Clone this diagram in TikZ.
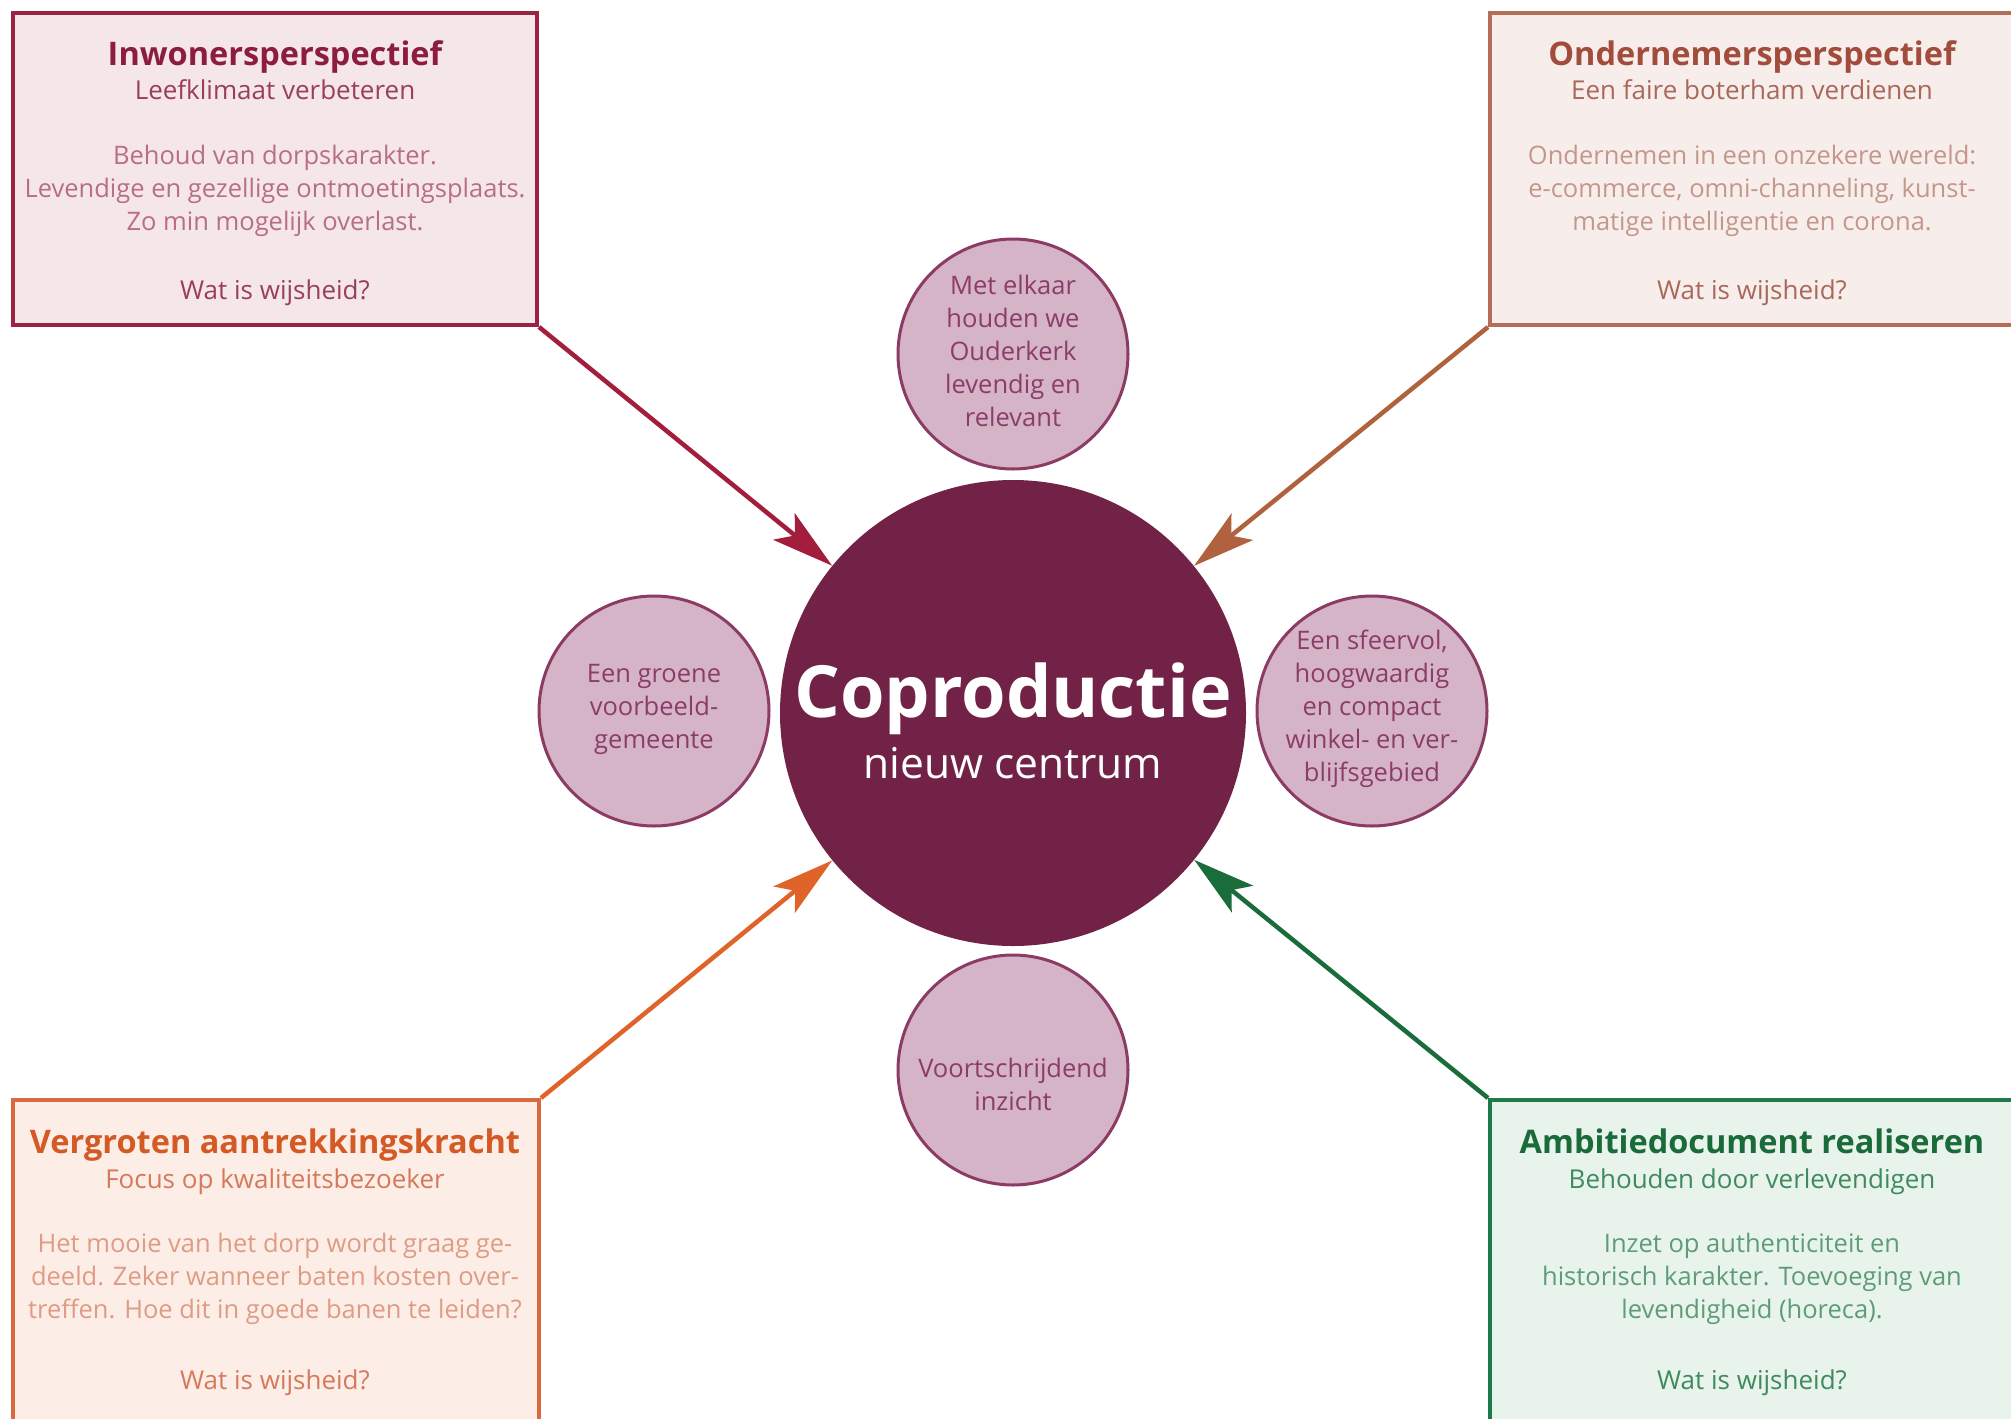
\documentclass[tikz,border=0pt]{standalone}
\usepackage{fontspec}
\setmainfont{Open Sans}
\usepackage{xcolor}
\usepackage{tikz}
\usetikzlibrary{arrows.meta, positioning}

% kleuren per perspectief
\definecolor{inwlijn}{HTML}{9A2242}
\definecolor{inwvul}{HTML}{F5E6EA}
\definecolor{inwtitel}{HTML}{8C1D3E}
\definecolor{inwsub}{HTML}{9A3F5A}
\definecolor{inwtekst}{HTML}{B86E84}
\definecolor{inwpijl}{HTML}{A21E3C}

\definecolor{ondlijn}{HTML}{B36E58}
\definecolor{ondvul}{HTML}{F7EEEC}
\definecolor{ondtitel}{HTML}{A24D3C}
\definecolor{ondsub}{HTML}{A8695A}
\definecolor{ondtekst}{HTML}{C4978C}
\definecolor{ondpijl}{HTML}{B0623E}

\definecolor{verlijn}{HTML}{D96A40}
\definecolor{vervul}{HTML}{FDEDE7}
\definecolor{vertitel}{HTML}{D35A24}
\definecolor{versub}{HTML}{D47A5A}
\definecolor{vertekst}{HTML}{DE9C84}
\definecolor{verpijl}{HTML}{E0642A}

\definecolor{amblijn}{HTML}{1E7A4A}
\definecolor{ambvul}{HTML}{E8F3EC}
\definecolor{ambtitel}{HTML}{1B6A3A}
\definecolor{ambsub}{HTML}{3F8A5E}
\definecolor{ambtekst}{HTML}{5E9C78}
\definecolor{ambpijl}{HTML}{1A6C3A}

\definecolor{kernvul}{HTML}{722246}
\definecolor{bolvul}{HTML}{D4B4C6}
\definecolor{bollijn}{HTML}{8C3C64}
\definecolor{boltekstkleur}{HTML}{8C3C68}

\tikzstyle{kader}      = [rectangle, draw, line width=4pt, inner sep=0pt]
\tikzstyle{bol}        = [circle, draw=bollijn, fill=bolvul, line width=3pt, minimum size=230pt, inner sep=0pt]
\tikzstyle{boltekst}   = [align=center, text=boltekstkleur, font=\fontsize{25.5}{33}\selectfont]
\tikzstyle{pijl}       = [line width=4.5pt, -{Stealth[length=62pt, width=34pt, inset=14pt]}]
\tikzstyle{titel}      = [font=\bfseries\fontsize{32.5}{38}\selectfont, text height=0.75em, text depth=0.25em]
\tikzstyle{ondertitel} = [font=\fontsize{26}{33}\selectfont, text height=0.75em, text depth=0.25em]
\tikzstyle{tekst}      = [align=center, font=\fontsize{25.5}{33}\selectfont]

\begin{document}
\begin{tikzpicture}[x=1pt, y=-1pt]
    \useasboundingbox (0,0) rectangle (2011,1419);
    \fill [white] (0,0) rectangle (2011,1419);
    \clip (0,0) rectangle (2011,1419);

    % vier perspectieven
    \node (inw) at (275,169)  [kader, draw=inwlijn, fill=inwvul, minimum width=524pt, minimum height=312pt] {};
    \node (inwtitel) at (275,63)  [titel, text=inwtitel] {Inwonersperspectief};
    \node (inwsub)   at (275,97)  [ondertitel, text=inwsub] {Leefklimaat verbeteren};
    \node (inwtekst) at (275,191) [tekst, text=inwtekst]
          {Behoud van dorpskarakter.\\Levendige en gezellige ontmoetingsplaats.\\Zo min mogelijk overlast.};
    \node (inwvraag) at (275,297) [ondertitel, text=inwsub] {Wat is wijsheid?};

    \node (ond) at (1753,169) [kader, draw=ondlijn, fill=ondvul, minimum width=526pt, minimum height=312pt] {};
    \node (ondtitel) at (1752,63)  [titel, text=ondtitel] {Ondernemersperspectief};
    \node (ondsub)   at (1752,97)  [ondertitel, text=ondsub] {Een faire boterham verdienen};
    \node (ondtekst) at (1752,191) [tekst, text=ondtekst]
          {Ondernemen in een onzekere wereld:\\e-commerce, omni-channeling, kunst-\\matige intelligentie en corona.};
    \node (ondvraag) at (1752,297) [ondertitel, text=ondsub] {Wat is wijsheid?};

    \node (ver) at (276,1265) [kader, draw=verlijn, fill=vervul, minimum width=526pt, minimum height=330pt] {};
    \node (vertitel) at (275,1151) [titel, text=vertitel] {Vergroten aantrekkingskracht};
    \node (versub)   at (275,1186) [ondertitel, text=versub] {Focus op kwaliteitsbezoeker};
    \node (vertekst) at (275,1279) [tekst, text=vertekst]
          {Het mooie van het dorp wordt graag ge-\\deeld. Zeker wanneer baten kosten over-\\treffen. Hoe dit in goede banen te leiden?};
    \node (vervraag) at (275,1387) [ondertitel, text=versub] {Wat is wijsheid?};

    \node (amb) at (1753,1265) [kader, draw=amblijn, fill=ambvul, minimum width=526pt, minimum height=330pt] {};
    \node (ambtitel) at (1752,1151) [titel, text=ambtitel] {Ambitiedocument realiseren};
    \node (ambsub)   at (1752,1186) [ondertitel, text=ambsub] {Behouden door verlevendigen};
    \node (ambtekst) at (1752,1279) [tekst, text=ambtekst]
          {Inzet op authenticiteit en\\historisch karakter. Toevoeging van\\levendigheid (horeca).};
    \node (ambvraag) at (1752,1387) [ondertitel, text=ambsub] {Wat is wijsheid?};

    % kern met vier bollen
    \node (kern) at (1013,713) [circle, fill=kernvul, minimum size=466pt, inner sep=0pt] {};
    \node (kerntitel) at (1013,699) [text=white, font=\bfseries\fontsize{72}{80}\selectfont] {Coproductie};
    \node (kernsub)   at (1013,763) [text=white, font=\fontsize{42.5}{48}\selectfont] {nieuw centrum};

    \node (bolboven) at (1013,354)  [bol] {};
    \node (bollinks) at (654,711)   [bol] {};
    \node (bolrechts) at (1372,711) [bol] {};
    \node (bolonder) at (1013,1070) [bol] {};
    \node (bolbovent)  at (1013,351)  [boltekst] {Met elkaar\\houden we\\Ouderkerk\\levendig en\\relevant};
    \node (bollinkst)  at (654,709)   [boltekst] {Een groene\\voorbeeld-\\gemeente};
    \node (bolrechtst) at (1372,709)  [boltekst] {Een sfeervol,\\hoogwaardig\\en compact\\winkel- en ver-\\blijfsgebied};
    \node (bolondert)  at (1013,1084) [boltekst] {Voortschrijdend\\inzicht};

    \draw [pijl, color=inwpijl] (inw.south east) -- (kern);
    \draw [pijl, color=ondpijl] (ond.south west) -- (kern);
    \draw [pijl, color=verpijl] (ver.north east) -- (kern);
    \draw [pijl, color=ambpijl] (amb.north west) -- (kern);
\end{tikzpicture}
\end{document}
